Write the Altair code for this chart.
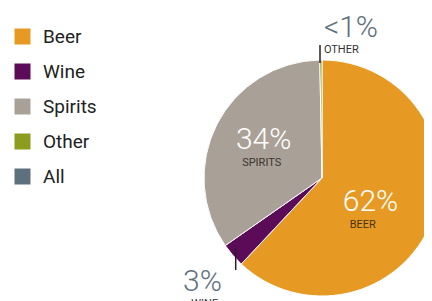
import altair as alt
import pandas as pd
import math

# data
categories = ["Beer", "Wine", "Spirits", "Other"]
shares = [62.0, 3.3, 34.4, 0.3]
pct_labels = ["62%", "3%", "34%", "<1%"]
name_labels = ["BEER", "WINE", "SPIRITS", "OTHER"]
legend_cats = ["Beer", "Wine", "Spirits", "Other", "All"]
legend_colors = ["#E79A23", "#5B0B57", "#A9A097", "#8C9C1F", "#5D707D"]

df = pd.DataFrame({
    "category": categories,
    "value": shares,
    "pct": pct_labels,
    "name": name_labels,
    "order": list(range(len(categories))),
})

FONT = "Roboto"
CX, CY = 314, 170
R = 118

base = alt.Chart(df)

pie = base.mark_arc(outerRadius=R, stroke="white", strokeWidth=1).encode(
    theta=alt.Theta("value:Q", stack=True),
    order=alt.Order("order:Q"),
    x=alt.value(CX),
    y=alt.value(CY),
    color=alt.Color(
        "category:N",
        scale=alt.Scale(domain=legend_cats, range=legend_colors),
        sort=legend_cats,
        title=None,
        legend=alt.Legend(
            orient="none", legendX=5, legendY=19,
            symbolType="square", symbolSize=256, symbolStrokeWidth=0,
            labelFont=FONT, labelFontSize=19, labelColor="#222222",
            rowPadding=15, labelOffset=11, padding=0,
        ),
    ),
)

lab_base = base.transform_joinaggregate(total="sum(value)").transform_window(
    cum="sum(value)", sort=[{"field": "order"}], frame=[None, 0]
).transform_calculate(mid="(datum.cum - datum.value/2)/datum.total")


def label(cat, field, radius, dx, dy, size, color, align="center", weight="normal"):
    return lab_base.transform_filter(alt.datum.category == cat).mark_text(
        font=FONT, fontSize=size, fontWeight=weight, color=color,
        align=align, baseline="alphabetic", dx=dx, dy=dy,
    ).encode(
        theta=alt.Theta("mid:Q", scale=alt.Scale(domain=[0, 1], range=[0, 2 * math.pi])),
        radius=alt.value(radius),
        x=alt.value(CX),
        y=alt.value(CY),
        text=alt.Text(f"{field}:N"),
    )


BIG = 30
SMALL = 11
layers = [
    label("Beer", "pct", 55, -2.6, 13, BIG, "white", weight=300),
    label("Beer", "name", 55, -10.4, 29.5, SMALL, "#4a3212"),
    label("Spirits", "pct", 55, -9.3, -4.5, BIG, "white", weight=300),
    label("Spirits", "name", 55, -11.3, 12.5, SMALL, "#3a3532"),
    label("Wine", "pct", R, -30.3, 35.7, BIG, "#5D707D", weight=300),
    label("Wine", "name", R, -28, 52, SMALL, "#333333"),
    label("Other", "pct", R, 3, -23, BIG, "#5D707D", align="left", weight=300),
    label("Other", "name", R, 3, -7, SMALL, "#333333", align="left"),
]

leaders = pd.DataFrame({"k": ["other", "wine"]})
rule_other = alt.Chart(leaders).transform_filter(alt.datum.k == "other").mark_rule(
    color="#222222", strokeWidth=1.5
).encode(x=alt.value(312), y=alt.value(37), y2=alt.value(55))
rule_wine = alt.Chart(leaders).transform_filter(alt.datum.k == "wine").mark_rule(
    color="#222222", strokeWidth=1.5
).encode(x=alt.value(227.7), y=alt.value(240), y2=alt.value(262))

chart = alt.layer(pie, rule_other, rule_wine, *layers).resolve_scale(
    theta="independent"
).properties(
    width=416, height=293, padding=0,
    autosize=alt.AutoSizeParams(type="none"),
).configure_view(stroke=None)

chart.save("out.html", embed_options={"renderer": "svg", "actions": False})
